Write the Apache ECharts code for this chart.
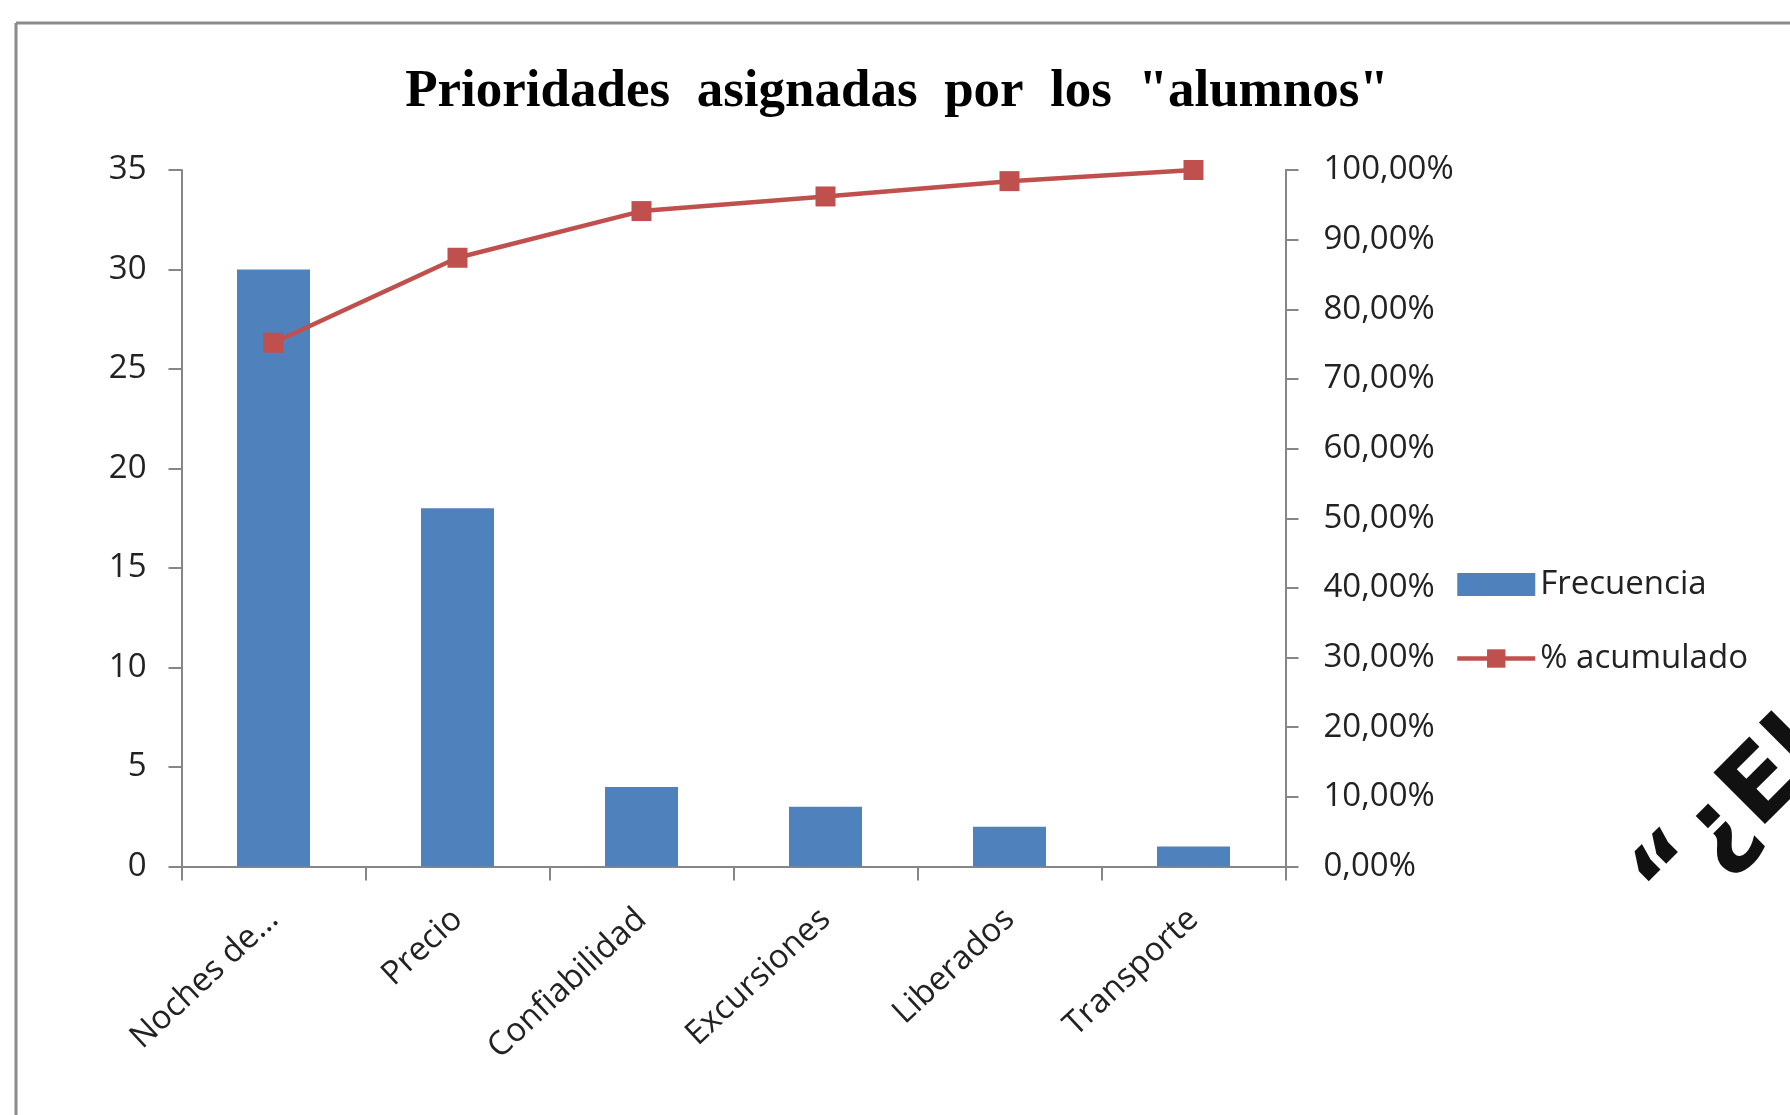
<!DOCTYPE html>
<html><head><meta charset="utf-8">
<script src="https://cdn.jsdelivr.net/npm/echarts@6/dist/echarts.min.js"></script>
<style>html,body{margin:0;padding:0;background:#fff;}#c{width:1790px;height:1115px;}</style>
</head><body><div id="c"></div>
<script>
var categories = ['Noches de...', 'Precio', 'Confiabilidad', 'Excursiones', 'Liberados', 'Transporte'];
var frecuencia = [30, 18, 4, 3, 2, 1];
var acumulado = [75.2, 87.4, 94.1, 96.2, 98.4, 100];
var titleText = 'Prioridades  asignadas  por  los  "alumnos"';
var sideText = '“¿El';

var chart = echarts.init(document.getElementById('c'));
var lblFont = '"Open Sans", sans-serif';
var lblSize = 33;
chart.setOption({
  animation: false,
  backgroundColor: '#fff',
  title: {
    text: titleText, left: 892, top: 61, textAlign: 'center',
    textStyle: { fontFamily: '"Liberation Serif", serif', fontWeight: 'bold', fontSize: 53, color: '#000' }
  },
  legend: {
    orient: 'vertical', left: 1450, top: 563, itemGap: 41,
    itemWidth: 78, itemHeight: 23,
    textStyle: { fontFamily: lblFont, fontSize: lblSize, color: '#222' },
    data: [
      { name: 'Frecuencia', icon: 'rect' },
      { name: '% acumulado', lineStyle: { width: 4.5 } }
    ]
  },
  grid: { left: 181.5, right: 504.5, top: 170, bottom: 248.5, containLabel: false },
  xAxis: {
    type: 'category', data: categories, boundaryGap: true,
    axisLine: { lineStyle: { color: '#868686', width: 2 } },
    axisTick: { show: true, length: 14, alignWithLabel: false, lineStyle: { color: '#868686', width: 2 } },
    axisLabel: { rotate: 43, margin: 48, interval: 0, fontFamily: lblFont, fontSize: lblSize, color: '#222' }
  },
  yAxis: [
    {
      type: 'value', min: 0, max: 35, interval: 5,
      axisLine: { show: true, lineStyle: { color: '#868686', width: 2 } },
      axisTick: { show: true, inside: false, length: 13, lineStyle: { color: '#868686', width: 2 } },
      splitLine: { show: false },
      axisLabel: { margin: 35, fontFamily: lblFont, fontSize: lblSize, color: '#222' }
    },
    {
      type: 'value', min: 0, max: 100, interval: 10, position: 'right',
      axisLine: { show: true, lineStyle: { color: '#868686', width: 2 } },
      axisTick: { show: true, inside: false, length: 13, lineStyle: { color: '#868686', width: 2 } },
      splitLine: { show: false },
      axisLabel: {
        margin: 38, fontFamily: lblFont, fontSize: lblSize, color: '#222',
        formatter: function (v) { return v.toFixed(2).replace('.', ',') + '%'; }
      }
    }
  ],
  series: [
    {
      name: 'Frecuencia', type: 'bar', data: frecuencia, barWidth: 73,
      itemStyle: { color: '#4F81BD' }
    },
    {
      name: '% acumulado', type: 'line', yAxisIndex: 1, data: acumulado,
      symbol: 'rect', symbolSize: 20,
      lineStyle: { color: '#C0504D', width: 4.5 },
      itemStyle: { color: '#C0504D' }
    }
  ],
  graphic: [
    { type: 'line', shape: { x1: 16, y1: 23, x2: 1790, y2: 23 }, style: { stroke: '#8a8a8a', lineWidth: 3 } },
    { type: 'line', shape: { x1: 16, y1: 23, x2: 16, y2: 1115 }, style: { stroke: '#8a8a8a', lineWidth: 3 } },
    {
      type: 'text', x: 1688, y: 935, rotation: Math.PI / 4,
      style: { text: sideText, fontFamily: '"DejaVu Sans", sans-serif', fontWeight: 'bold', fontSize: 100, fill: '#111', textAlign: 'left', textVerticalAlign: 'bottom' }
    }
  ]
});
</script></body></html>
